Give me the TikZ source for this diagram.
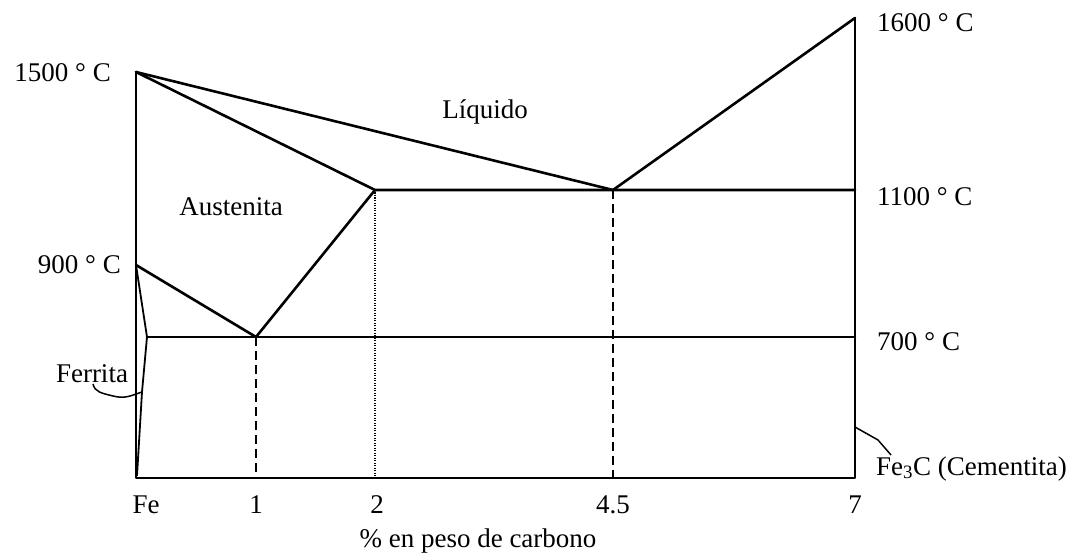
\documentclass[tikz,border=0pt]{standalone}
\usepackage{fontspec}
\setmainfont{Liberation Serif}

\begin{document}
\begin{tikzpicture}[x=1pt, y=-1pt,
    phase/.style={line width=2.6pt, line join=round, line cap=round},
    guide/.style={line width=1.5pt, dash pattern=on 9pt off 5pt},
    dotguide/.style={line width=1.5pt, dash pattern=on 1.2pt off 1.3pt},
    leader/.style={line width=1.5pt, line join=round},
    lbl/.style={font=\fontsize{27}{30}\selectfont, inner sep=0pt}
]
    \useasboundingbox (0,0) rectangle (1070,556);

    % Key points of the diagram
    \coordinate (fe)    at (136,478);
    \coordinate (t1500) at (136,72);
    \coordinate (t900)  at (136,265);
    \coordinate (fa)    at (147,337);
    \coordinate (fb)    at (142,392);
    \coordinate (eutd)  at (256,337);
    \coordinate (c2)    at (375,190);
    \coordinate (eut)   at (613,190);
    \coordinate (t1600) at (855,18);
    \coordinate (t1100) at (855,190);
    \coordinate (t700)  at (855,337);
    \coordinate (cem)   at (855,427);
    \coordinate (c7)    at (855,478);
    \coordinate (x1)    at (256,478);
    \coordinate (x2)    at (375,478);
    \coordinate (x45)   at (613,478);

    % Axes
    \draw[phase] (t1500) -- (fe) -- (c7) -- (t1600);

    % Phase boundaries
    \draw[phase] (t1500) -- (eut) -- (t1600);
    \draw[phase] (t1500) -- (c2) -- (t1100);
    \draw[phase] (t900) -- (eutd) -- (c2);
    \draw[phase] (fa) -- (t700);
    \draw[line width=1.8pt] (t900) -- (fa) -- (fb) -- (137,476);

    % Guide lines
    \draw[guide] (eutd) -- (x1);
    \draw[dotguide] (c2) -- (x2);
    \draw[guide] (eut) -- (x45);

    % Temperature labels
    \node[lbl, anchor=base east] (l1500) at (111,82) {1500 ° C};
    \node[lbl, anchor=base east] (l900)  at (121,273) {900 ° C};
    \node[lbl, anchor=base west] (l1600) at (877,32) {1600 ° C};
    \node[lbl, anchor=base west] (l1100) at (877,205) {1100 ° C};
    \node[lbl, anchor=base west] (l700)  at (877,350) {700 ° C};

    % Phase labels
    \node[lbl, anchor=base] (liq) at (485,119) {Líquido};
    \node[lbl, anchor=base] (aus) at (231,215) {Austenita};
    \node[lbl, anchor=base] (fer) at (92,382) {Ferrita};
    \node[lbl, anchor=base west] (fec) at (876,475) {Fe\textsubscript{3}C (Cementita)};

    % Leaders
    \draw[leader] (93,384) .. controls (95,392) and (101,393) .. (113,396)
        .. controls (125,399) and (130,396) .. (fb);
    \draw[leader] (cem) -- (878,440) -- (891,455);

    % Composition axis
    \node[lbl, anchor=base] (xfe)  at (146,513) {Fe};
    \node[lbl, anchor=base] (xl1)  at (256,513) {1};
    \node[lbl, anchor=base] (xl2)  at (377,513) {2};
    \node[lbl, anchor=base] (xl45) at (613,513) {4.5};
    \node[lbl, anchor=base] (xl7)  at (855,513) {7};
    \node[lbl, anchor=base] (xlab) at (478,547) {\% en peso de carbono};
\end{tikzpicture}
\end{document}
